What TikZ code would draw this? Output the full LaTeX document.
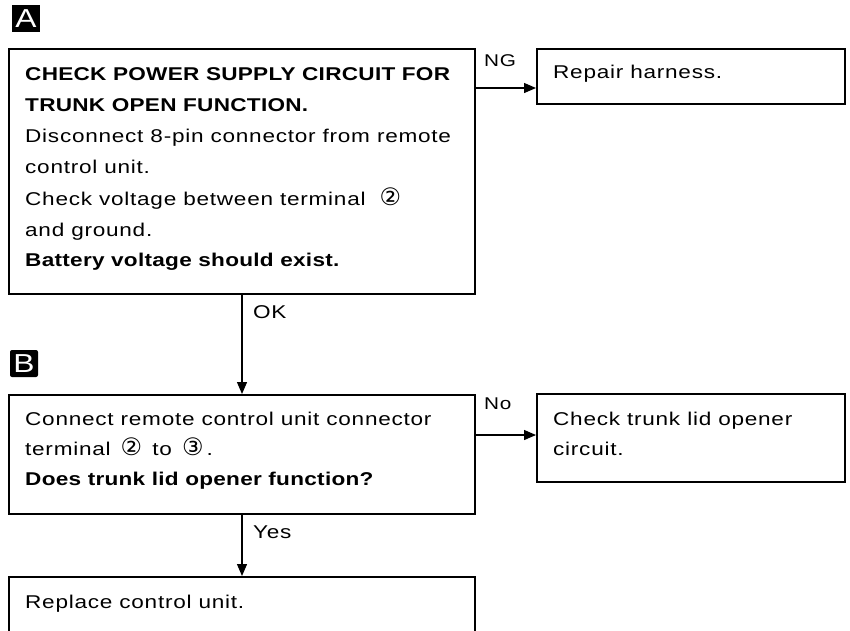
\documentclass[tikz,border=0pt]{standalone}
\usepackage{fontspec}
\setmainfont{Liberation Sans}[FakeStretch=1.22, LetterSpace=4, BoldFeatures={LetterSpace=1.5}]
\newfontfamily\circfont{DejaVu Sans}
\usetikzlibrary{arrows.meta}
\newcommand{\cnum}[1]{{\circfont\fontsize{24}{24}\selectfont #1}}
\begin{document}
\begin{tikzpicture}[x=1pt,y=-1pt,
  box/.style={draw, line width=1.6pt, inner sep=0, anchor=north west},
  txt/.style={anchor=base west, inner sep=0, font=\fontsize{18.5}{31}\selectfont},
  btxt/.style={anchor=base west, inner sep=0, font=\fontsize{18.5}{31}\selectfont\bfseries},
  lbl/.style={anchor=base west, inner sep=0, font=\fontsize{18.5}{20}\selectfont},
  slbl/.style={anchor=base west, inner sep=0, font=\fontsize{17}{20}\selectfont},
  arr/.style={line width=1.3pt, -{Triangle[length=12pt,width=10pt]}},
  tag/.style={fill=black, text=white, inner sep=0, minimum width=28pt, minimum height=27pt, font=\fontsize{26}{26}\selectfont}]
\useasboundingbox (0,0) rectangle (850,630);
% tags
\node[tag] (tagA) at (26,18.5) {A};
\node[tag, rounded corners=2pt] (tagB) at (24,363.5) {B};
% boxes
\node[box, minimum width=466pt, minimum height=245pt] (A) at (8,48) {};
\node[box, minimum width=308pt, minimum height=55pt] (NG) at (536,48) {};
\node[box, minimum width=466pt, minimum height=119pt] (B) at (8,394) {};
\node[box, minimum width=308pt, minimum height=88pt] (NO) at (536,393) {};
\node[box, minimum width=466pt, minimum height=90pt] (R) at (8,576) {};
% box A text
\node[btxt] (a1) at (25,80) {CHECK POWER SUPPLY CIRCUIT FOR};
\node[btxt] (a2) at (25,111) {TRUNK OPEN FUNCTION.};
\node[txt] (a3) at (25,142) {Disconnect 8-pin connector from remote};
\node[txt] (a4) at (25,173) {control unit.};
\node[txt] (a5) at (25,205) {Check voltage between terminal \ \cnum{②}};
\node[txt] (a6) at (25,236) {and ground.};
\node[btxt] (a7) at (25,266) {Battery voltage should exist.};
% NG box
\node[txt] (ng1) at (553,78) {Repair harness.};
% box B text
\node[txt] (b1) at (25,425) {Connect remote control unit connector};
\node[txt] (b2) at (25,455) {terminal \,\cnum{②}\, to \,\cnum{③}\,.};
\node[btxt] (b3) at (25,485) {Does trunk lid opener function?};
% No box
\node[txt] (n1) at (553,425) {Check trunk lid opener};
\node[txt] (n2) at (553,455) {circuit.};
% Replace
\node[txt] (r1) at (25,608) {Replace control unit.};
% connectors
\coordinate (ngy) at (0,88);
\coordinate (okx) at (242,0);
\coordinate (noy) at (0,435);
\draw[arr] (A.east |- ngy) -- (NG.west |- ngy);
\draw[arr] (A.south -| okx) -- (B.north -| okx);
\draw[arr] (B.east |- noy) -- (NO.west |- noy);
\draw[arr] (B.south -| okx) -- (R.north -| okx);
% labels
\node[slbl] (lng) at (484,66) {NG};
\node[lbl] (lok) at (253,318) {OK};
\node[slbl] (lno) at (484,409) {No};
\node[lbl] (lyes) at (253,538) {Yes};
\end{tikzpicture}
\end{document}
